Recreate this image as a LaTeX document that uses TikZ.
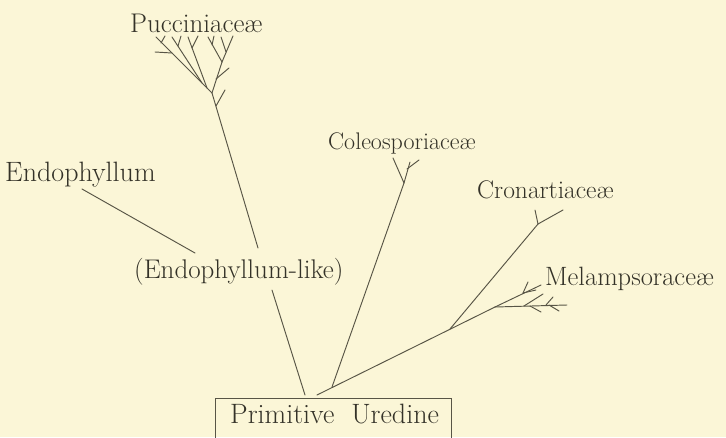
\documentclass[tikz,border=0pt]{standalone}
\usepackage{tikz}
\definecolor{paper}{RGB}{251,246,215}
\definecolor{ink}{RGB}{88,85,70}
\definecolor{textink}{RGB}{52,50,40}
\tikzset{
  branch/.style={draw=ink, line width=0.95pt, line cap=round},
  lab/.style={anchor=base west, inner sep=0pt, text=textink},
  boxframe/.style={draw=ink, line width=1pt, anchor=north west, minimum width=236pt, minimum height=52pt, inner sep=0pt}
}
\newcommand{\fsz}[1]{\fontsize{#1}{#1}\selectfont}
\begin{document}
\begin{tikzpicture}[x=1pt,y=-1pt]
\useasboundingbox (0,0) rectangle (726,437);
\fill[paper] (0,0) rectangle (726,437);
\clip (0,0) rectangle (726,437);

% labels
\node[lab] (puc) at (130,32) {\fsz{27}Pucciniace\ae};
\node[lab] (col) at (328,149) {\fsz{24}Coleosporiace\ae};
\node[lab] (endo) at (5,181) {\fsz{28}Endophyllum};
\node[lab] (endl) at (134,278) {\fsz{27}(Endophyllum-like)};
\node[lab] (cro) at (477,198) {\fsz{25.5}Cronartiace\ae};
\node[lab] (mel) at (545,285) {\fsz{26.5}Melampsorace\ae};
\node[boxframe] (prim) at (215,398) {};
\node[lab] (primt) at (230,423) {\fsz{28}Primitive\hspace{0.3em} Uredine};

% key points
\coordinate (b1) at (305,395);
\coordinate (b3) at (317,395);
\coordinate (b2) at (332,387);
\coordinate (elb) at (272,290);
\coordinate (elt) at (258,248);
\coordinate (F1) at (212,93);
\coordinate (en1) at (195,253);
\coordinate (en2) at (82,189);
\coordinate (cf) at (404,183);
\coordinate (crj) at (450,329);
\coordinate (crf) at (538,224);
\coordinate (mf) at (495,307);

% main stems
\path[branch] (b1) -- (elb);
\path[branch] (elt) -- (F1);
\path[branch] (en1) -- (en2);
\path[branch] (b3) -- (mf);
\path[branch] (b2) -- (cf);
\path[branch] (crj) -- (crf);

% Pucciniaceae tree
\coordinate (p0) at (216,106); \coordinate (p0t) at (225,90);
\path[branch] (p0) -- (p0t);
\coordinate (D) at (156,37);
\path[branch] (F1) -- (D);
\coordinate (dt1) at (172,53); \coordinate (dt2) at (155,52);
\path[branch] (dt1) -- (dt2);
\coordinate (dv1) at (161,43); \coordinate (dv2) at (165,36);
\path[branch] (dv1) -- (dv2);
\coordinate (B1a) at (202,83); \coordinate (B1b) at (172,37);
\path[branch] (B1a) -- (B1b);
\coordinate (b1v1) at (178,46); \coordinate (b1v2) at (181,36);
\path[branch] (b1v1) -- (b1v2);
\coordinate (B2a) at (207,88); \coordinate (B2b) at (188,37);
\path[branch] (B2a) -- (B2b);
\coordinate (b2v1) at (192,48); \coordinate (b2v2) at (198,36);
\path[branch] (b2v1) -- (b2v2);
\coordinate (R) at (222,62);
\path[branch] (F1) -- (R);
\coordinate (rt1) at (216,79); \coordinate (rt2) at (229,68);
\path[branch] (rt1) -- (rt2);
\coordinate (R1) at (208,37); \coordinate (R2) at (233,36);
\path[branch] (R) -- (R1);
\path[branch] (R) -- (R2);
\coordinate (rv1) at (226,52); \coordinate (rv2) at (221,37);
\path[branch] (rv1) -- (rv2);
\coordinate (r1v1) at (212,45); \coordinate (r1v2) at (214,36);
\path[branch] (r1v1) -- (r1v2);

% Coleosporiaceae tree
\coordinate (cl) at (393,158);
\coordinate (cr) at (410,162);
\coordinate (ct1) at (407,169); \coordinate (ct2) at (419,160);
\path[branch] (cf) -- (cl);
\path[branch] (cf) -- (cr);
\path[branch] (ct1) -- (ct2);

% Cronartiaceae tree
\coordinate (crl) at (535,210);
\coordinate (crr) at (563,210);
\path[branch] (crf) -- (crl);
\path[branch] (crf) -- (crr);

% Melampsoraceae tree
\coordinate (mu) at (541,285);
\coordinate (ml) at (567,305);
\path[branch] (mf) -- (mu);
\path[branch] (mf) -- (ml);
\coordinate (mu1) at (523,293); \coordinate (mu2) at (528,282);
\coordinate (mu3) at (536,290);
\path[branch] (mu1) -- (mu2);
\path[branch] (mu1) -- (mu3);
\coordinate (ml1) at (524,306); \coordinate (ml2) at (543,294);
\coordinate (ml3) at (530,306); \coordinate (ml4) at (541,312);
\coordinate (ml5) at (546,305); \coordinate (ml6) at (553,297);
\coordinate (ml7) at (549,305); \coordinate (ml8) at (559,311);
\path[branch] (ml1) -- (ml2);
\path[branch] (ml3) -- (ml4);
\path[branch] (ml5) -- (ml6);
\path[branch] (ml7) -- (ml8);
\end{tikzpicture}
\end{document}
